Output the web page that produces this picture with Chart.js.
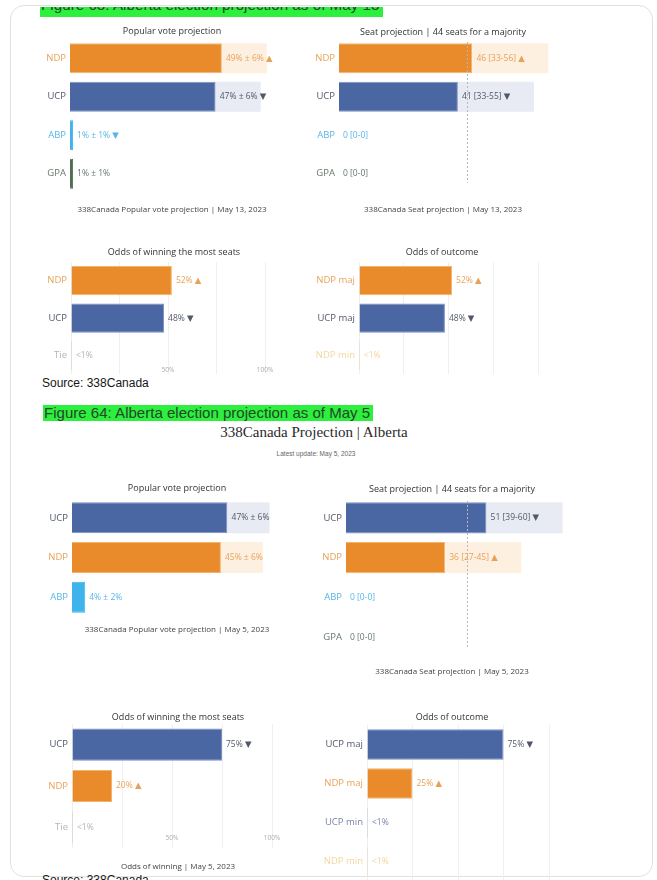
<!DOCTYPE html>
<html>
<head>
<meta charset="utf-8">
<title>338Canada Alberta projection</title>
<script src="https://cdn.jsdelivr.net/npm/chart.js@4"></script>
<style>
  html, body { margin: 0; padding: 0; background: #fff; }
  body { width: 657px; height: 880px; position: relative; overflow: hidden; font-family: "Liberation Sans", Arial, sans-serif; }
  .card { position: absolute; left: 10px; top: 5px; width: 643px; height: 872px; border: 1px solid #e1e1e1; border-radius: 14px; box-sizing: border-box; }
  canvas { position: absolute; }
  .fig { position: absolute; background: #2cef3e; color: #24462a; font-size: 15px; line-height: 16px; height: 16px; white-space: nowrap; overflow: hidden; }
  .fig span { display: inline-block; transform-origin: 0 0; padding-left: 1px; }
  .src { position: absolute; left: 42px; font-size: 12px; line-height: 14px; color: #161616; white-space: nowrap; }
  .mid { position: absolute; transform: translate(-50%, -50%); white-space: nowrap; }
</style>
</head>
<body>
<div class="card"></div>

<div style="position:absolute; left:0; top:7px; width:657px; height:10px; overflow:hidden;">
  <div class="fig" style="left:40px; top:0px; width:343px; height:10px; line-height:10px;"><span style="position:relative; top:-7px;">Figure 63: Alberta election projection as of May 13</span></div>
</div>
<div class="src" style="top:376px;">Source: 338Canada</div>

<div class="fig" style="left:43px; top:405px; width:330px;"><span>Figure 64: Alberta election projection as of May 5</span></div>
<div class="mid" style="left:314px; top:432px; font: 15px 'Liberation Serif', 'Times New Roman', serif; color:#2a2a2a;">338Canada Projection | Alberta</div>
<div class="mid" style="left:316px; top:453px; font-size:6.5px; color:#666;">Latest update: May 5, 2023</div>
<div class="src" style="top:873px;">Source: 338Canada</div>

<script>
// May 13 projection
const may13Parties = ['NDP', 'UCP', 'ABP', 'GPA'];
const may13Vote = [49, 47, 1, 1];
const may13VoteMoe = [6, 6, 1, 1];
const may13VoteTrend = ['up', 'down', 'down', ''];
const may13Seats = [46, 41, 0, 0];
const may13SeatsLow = [33, 33, 0, 0];
const may13SeatsHigh = [56, 55, 0, 0];
const may13SeatsTrend = ['up', 'down', '', ''];
const may13WinLabels = ['NDP', 'UCP', 'Tie'];
const may13Win = [52, 48, 0.5];
const may13WinTrend = ['up', 'down', ''];
const may13OutcomeLabels = ['NDP maj', 'UCP maj', 'NDP min'];
const may13Outcome = [52, 48, 0.5];
const may13OutcomeTrend = ['up', 'down', ''];

// May 5 projection
const may5VoteParties = ['UCP', 'NDP', 'ABP'];
const may5Vote = [47, 45, 4];
const may5VoteMoe = [6, 6, 2];
const may5SeatParties = ['UCP', 'NDP', 'ABP', 'GPA'];
const may5Seats = [51, 36, 0, 0];
const may5SeatsLow = [39, 27, 0, 0];
const may5SeatsHigh = [60, 45, 0, 0];
const may5SeatsTrend = ['down', 'up', '', ''];
const may5WinLabels = ['UCP', 'NDP', 'Tie'];
const may5Win = [75, 20, 0.5];
const may5WinTrend = ['down', 'up', ''];
const may5OutcomeLabels = ['UCP maj', 'NDP maj', 'UCP min', 'NDP min'];
const may5Outcome = [75, 25, 0.5, 0.5];
const may5OutcomeTrend = ['down', 'up', '', ''];

const majoritySeats = 44;
const oddsTicks = [50, 100];

const partyStyle = {
  NDP: { bar: '#e98b2a', edge: '#f3b36b', text: '#e8a257', faint: '#f2d69c', box: '#fdf0e1' },
  UCP: { bar: '#4a67a3', edge: '#7990c1', text: '#525868', faint: '#7885aa', box: '#e8ebf4' },
  ABP: { bar: '#3fb4ec', edge: '#3fb4ec', text: '#5ab6e6', box: null },
  GPA: { bar: '#4f6f4f', edge: '#4f6f4f', text: '#66786a', box: null },
  Tie: { bar: '#a0a0a0', edge: '#a0a0a0', text: '#b4b4b4', box: null }
};

function styleOf(label) {
  const s = partyStyle[label.split(' ')[0]];
  return / min$/.test(label) ? Object.assign({}, s, { text: s.faint, box: null }) : s;
}

const arrow = t => t === 'up' ? ' ▲' : t === 'down' ? ' ▼' : '';
const pct = v => v < 1 ? '<1%' : v + '%';
const voteText = (v, m, t) => v.map((x, i) => `${x}% ± ${m[i]}%` + arrow(t ? t[i] : ''));
const seatText = (v, lo, hi, t) => v.map((x, i) => `${x} [${lo[i]}-${hi[i]}]` + arrow(t[i]));
const oddsText = (v, t) => v.map((x, i) => pct(x) + arrow(t[i]));

// value label (with light box) at the end of each bar
const valueLabels = {
  id: 'valueLabels',
  afterDatasetsDraw(chart, args, opts) {
    if (!opts.texts) return;
    const ctx = chart.ctx;
    ctx.save();
    ctx.font = '8.5px "Open Sans", "DejaVu Sans", sans-serif';
    ctx.textBaseline = 'middle';
    chart.getDatasetMeta(0).data.forEach((bar, i) => {
      if (opts.boxWidth && opts.boxes[i]) {
        ctx.fillStyle = opts.boxes[i];
        ctx.fillRect(bar.x, bar.y - bar.height / 2, opts.boxWidth, bar.height);
      }
      ctx.fillStyle = opts.colors[i];
      ctx.fillText(opts.texts[i], bar.x + 4, bar.y);
    });
    ctx.restore();
  }
};

// dotted majority line on the seat charts
const majorityLine = {
  id: 'majorityLine',
  afterDatasetsDraw(chart, args, opts) {
    if (opts.value == null) return;
    const { ctx, chartArea } = chart;
    const x = Math.round(chart.scales.x.getPixelForValue(opts.value)) + 0.5;
    ctx.save();
    ctx.strokeStyle = '#b8b8b8';
    ctx.lineWidth = 1;
    ctx.setLineDash([2, 2]);
    ctx.beginPath();
    ctx.moveTo(x, chartArea.top + 3);
    ctx.lineTo(x, chartArea.bottom - 10);
    ctx.stroke();
    ctx.restore();
  }
};

// small percent labels sitting inside the last row of the odds charts
const pctTicks = {
  id: 'pctTicks',
  afterDraw(chart, args, opts) {
    if (!opts.values) return;
    const ctx = chart.ctx;
    const y = chart.chartArea.bottom - opts.lift;
    ctx.save();
    ctx.font = '6.5px "Open Sans", sans-serif';
    ctx.fillStyle = '#acacac';
    ctx.textAlign = 'center';
    ctx.textBaseline = 'middle';
    opts.values.forEach(v => ctx.fillText(v + '%', chart.scales.x.getPixelForValue(v), y));
    ctx.restore();
  }
};

Chart.register(valueLabels, majorityLine, pctTicks);
Chart.defaults.font.family = '"Open Sans", "DejaVu Sans", sans-serif';

const TITLE_SIZE = 9, NOTE_SIZE = 8;

// one small horizontal bar chart; g holds where the plot, title and note sit on the page
function panel(g, d) {
  const titleLH = TITLE_SIZE * 1.2, noteLH = NOTE_SIZE * 1.2;
  const left = g.plotLeft - g.labelW;
  const right = 2 * g.titleX - left;
  const top = Math.round(g.titleY - titleLH / 2 - 4);
  const bottom = d.note ? Math.round(g.noteY + noteLH / 2 + 4) : g.plotBottom + 8;
  // the plot runs to the canvas edge so the titles stay centred; the axis is stretched to keep its scale
  const span = d.xMax * (right - g.plotLeft) / (g.plotRight - g.plotLeft);

  const canvas = document.createElement('canvas');
  canvas.width = right - left;
  canvas.height = bottom - top;
  canvas.style.left = left + 'px';
  canvas.style.top = top + 'px';
  document.body.appendChild(canvas);

  const styles = d.labels.map(styleOf);
  new Chart(canvas, {
    type: 'bar',
    data: {
      labels: d.labels,
      datasets: [{
        data: d.values,
        backgroundColor: styles.map(s => s.bar),
        borderColor: styles.map(s => s.edge),
        borderWidth: 1,
        barPercentage: 0.78,
        categoryPercentage: 1
      }]
    },
    options: {
      indexAxis: 'y',
      responsive: false,
      animation: false,
      events: [],
      layout: { padding: { left: 0, top: 0, right: 0, bottom: d.note ? 0 : 8 } },
      scales: {
        x: {
          min: 0, max: span,
          display: !!d.grid,
          border: { display: false },
          grid: { color: c => c.tick && c.tick.value <= d.xMax ? '#efefef' : 'rgba(0,0,0,0)', drawTicks: false },
          ticks: { display: false, stepSize: 25 }
        },
        y: {
          border: { display: false },
          grid: { display: false, drawTicks: false },
          ticks: { padding: 4, color: c => styles[c.index].text, font: { size: 9.5 } },
          afterFit: s => { s.width = g.labelW; }
        }
      },
      plugins: {
        legend: { display: false },
        tooltip: { enabled: false },
        title: {
          display: true, text: d.title, color: '#333',
          font: { size: TITLE_SIZE, weight: 'normal' },
          padding: { top: g.titleY - titleLH / 2 - top, bottom: g.plotTop - g.titleY - titleLH / 2 }
        },
        subtitle: d.note ? {
          display: true, text: d.note, position: 'bottom', color: '#444',
          font: { size: NOTE_SIZE },
          padding: { top: g.noteY - noteLH / 2 - g.plotBottom, bottom: bottom - g.noteY - noteLH / 2 }
        } : { display: false },
        valueLabels: { texts: d.texts, colors: styles.map(s => s.text), boxes: styles.map(s => s.box), boxWidth: d.boxWidth || 0 },
        majorityLine: { value: d.majority },
        pctTicks: { values: d.ticks, lift: g.tickLift }
      }
    }
  });
}

panel({ plotLeft: 70, plotRight: 256, labelW: 50, titleX: 172, titleY: 31, plotTop: 39, plotBottom: 193, noteY: 210 }, {
  title: 'Popular vote projection', note: '338Canada Popular vote projection | May 13, 2023',
  labels: may13Parties, values: may13Vote, xMax: 60, boxWidth: 45,
  texts: voteText(may13Vote, may13VoteMoe, may13VoteTrend)
});

panel({ plotLeft: 339, plotRight: 542, labelW: 45, titleX: 443, titleY: 32, plotTop: 39, plotBottom: 193, noteY: 210 }, {
  title: 'Seat projection | 44 seats for a majority', note: '338Canada Seat projection | May 13, 2023',
  labels: may13Parties, values: may13Seats, xMax: 70, boxWidth: 76, majority: majoritySeats,
  texts: seatText(may13Seats, may13SeatsLow, may13SeatsHigh, may13SeatsTrend)
});

panel({ plotLeft: 71, plotRight: 265, labelW: 50, titleX: 174, titleY: 252, plotTop: 262, plotBottom: 376, tickLift: 4 }, {
  title: 'Odds of winning the most seats',
  labels: may13WinLabels, values: may13Win, xMax: 100, grid: true, ticks: oddsTicks,
  texts: oddsText(may13Win, may13WinTrend)
});

panel({ plotLeft: 359, plotRight: 538, labelW: 60, titleX: 442, titleY: 252, plotTop: 262, plotBottom: 376 }, {
  title: 'Odds of outcome',
  labels: may13OutcomeLabels, values: may13Outcome, xMax: 100, grid: true,
  texts: oddsText(may13Outcome, may13OutcomeTrend)
});

panel({ plotLeft: 72, plotRight: 254, labelW: 50, titleX: 177, titleY: 488, plotTop: 498, plotBottom: 617, noteY: 630 }, {
  title: 'Popular vote projection', note: '338Canada Popular vote projection | May 5, 2023',
  labels: may5VoteParties, values: may5Vote, xMax: 55, boxWidth: 42,
  texts: voteText(may5Vote, may5VoteMoe, null)
});

panel({ plotLeft: 346, plotRight: 539, labelW: 50, titleX: 452, titleY: 489, plotTop: 498, plotBottom: 657, noteY: 672 }, {
  title: 'Seat projection | 44 seats for a majority', note: '338Canada Seat projection | May 5, 2023',
  labels: may5SeatParties, values: may5Seats, xMax: 70, boxWidth: 76, majority: majoritySeats,
  texts: seatText(may5Seats, may5SeatsLow, may5SeatsHigh, may5SeatsTrend)
});

panel({ plotLeft: 72, plotRight: 272, labelW: 50, titleX: 178, titleY: 717, plotTop: 724, plotBottom: 848, noteY: 867, tickLift: 10 }, {
  title: 'Odds of winning the most seats', note: 'Odds of winning | May 5, 2023',
  labels: may5WinLabels, values: may5Win, xMax: 100, grid: true, ticks: oddsTicks,
  texts: oddsText(may5Win, may5WinTrend)
});

panel({ plotLeft: 367, plotRight: 549, labelW: 65, titleX: 452, titleY: 717, plotTop: 725, plotBottom: 883 }, {
  title: 'Odds of outcome',
  labels: may5OutcomeLabels, values: may5Outcome, xMax: 100, grid: true,
  texts: oddsText(may5Outcome, may5OutcomeTrend)
});

// squeeze the highlighted figure captions into their bands
document.querySelectorAll('.fig span').forEach(span => {
  const band = span.parentElement.clientWidth - 3;
  span.style.transform = `scaleX(${band / span.offsetWidth})`;
});
</script>
</body>
</html>
